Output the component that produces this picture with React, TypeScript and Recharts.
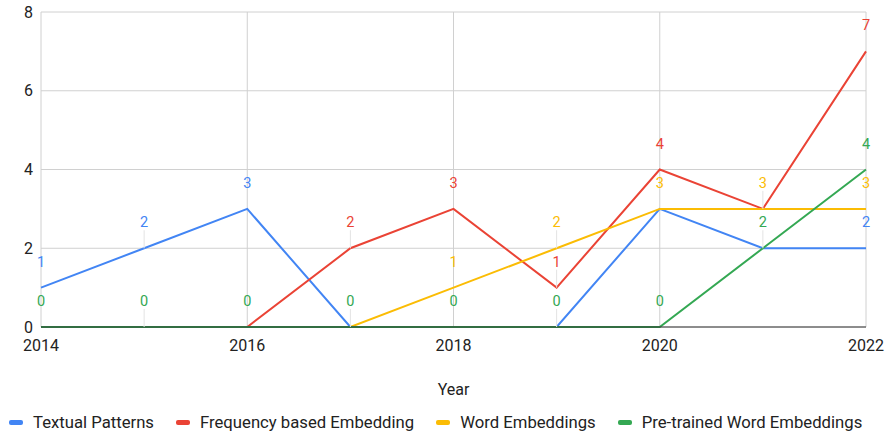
import React from 'react';
import {
  LineChart,
  Line,
  XAxis,
  YAxis,
  CartesianGrid,
  Legend,
  LabelList,
} from 'recharts';

const YEARS = [2014, 2015, 2016, 2017, 2018, 2019, 2020, 2021, 2022];
const TEXTUAL_PATTERNS = [1, 2, 3, 0, 0, 0, 3, 2, 2];
const FREQUENCY_EMBEDDING = [0, 0, 0, 2, 3, 1, 4, 3, 7];
const WORD_EMBEDDINGS = [0, 0, 0, 0, 1, 2, 3, 3, 3];
const PRETRAINED_EMBEDDINGS = [0, 0, 0, 0, 0, 0, 0, 2, 4];
const X_TICKS = [2014, 2016, 2018, 2020, 2022];
const Y_TICKS = [0, 2, 4, 6, 8];

const SERIES = [
  { key: 'textual', name: 'Textual Patterns', color: '#4285F4', values: TEXTUAL_PATTERNS },
  { key: 'frequency', name: 'Frequency based Embedding', color: '#EA4335', values: FREQUENCY_EMBEDDING },
  { key: 'word', name: 'Word Embeddings', color: '#FBBC04', values: WORD_EMBEDDINGS },
  { key: 'pretrained', name: 'Pre-trained Word Embeddings', color: '#34A853', values: PRETRAINED_EMBEDDINGS },
];

const data = YEARS.map((year, i) => {
  const row: any = { year };
  SERIES.forEach((s) => (row[s.key] = s.values[i]));
  return row;
});

const FONT = 'Roboto, Arial, sans-serif';

// a label is hidden when a later series sits on the same value (drawn on top)
const isHidden = (seriesIdx: number, i: number) =>
  SERIES.slice(seriesIdx + 1).some((s) => s.values[i] === SERIES[seriesIdx].values[i]);

const makeLabel = (seriesIdx: number) => (props: any) => {
  const { x, y, value, index } = props;
  if (isHidden(seriesIdx, index)) return null;
  const ty = y - 26;
  return (
    <g>
      {index % 2 === 1 && (
        <line x1={x} x2={x} y1={ty + 8} y2={y} stroke="#e3e3e3" strokeWidth={1} />
      )}
      <text
        x={x}
        y={ty}
        dy="0.35em"
        textAnchor="middle"
        fill={SERIES[seriesIdx].color}
        fontSize={14.5}
        fontFamily={FONT}
      >
        {value}
      </text>
    </g>
  );
};

const LegendContent = () => (
  <div style={{ display: 'flex', alignItems: 'center', fontFamily: FONT, fontSize: 16.7, color: '#222' }}>
    {SERIES.map((s) => (
      <div key={s.key} style={{ display: 'flex', alignItems: 'center', marginRight: 22 }}>
        <span
          style={{
            display: 'inline-block',
            width: 14,
            height: 5,
            borderRadius: 2,
            background: s.color,
            marginRight: 10,
          }}
        />
        <span style={{ whiteSpace: 'nowrap' }}>{s.name}</span>
      </div>
    ))}
  </div>
);

export default function App() {
  return (
    <div style={{ position: 'absolute', left: 0, top: 0, width: 886, height: 436, background: '#fff' }}>
      <LineChart width={886} height={436} data={data} margin={{ top: 12, right: 20, left: 0, bottom: 34 }}>
        <CartesianGrid stroke="#d0d0d0" />
        <XAxis
          dataKey="year"
          type="number"
          domain={[2014, 2022]}
          ticks={X_TICKS}
          tickLine={false}
          tickMargin={7}
          height={75}
          axisLine={{ stroke: '#333', strokeWidth: 1 }}
          tick={{ fontSize: 16, fill: '#222', fontFamily: FONT }}
          label={{ value: 'Year', position: 'insideBottom', offset: 7, fontSize: 16, fill: '#222', fontFamily: FONT }}
        />
        <YAxis
          domain={[0, 8]}
          ticks={Y_TICKS}
          width={41}
          axisLine={false}
          tickLine={false}
          tick={{ fontSize: 16, fill: '#222', fontFamily: FONT }}
        />
        {SERIES.map((s, idx) => (
          <Line
            key={s.key}
            type="linear"
            dataKey={s.key}
            name={s.name}
            stroke={s.color}
            strokeWidth={2}
            dot={false}
            activeDot={false}
            isAnimationActive={false}
          >
            <LabelList dataKey={s.key} content={makeLabel(idx)} />
          </Line>
        ))}
        <Legend
          layout="horizontal"
          verticalAlign="middle"
          align="center"
          content={<LegendContent />}
          wrapperStyle={{ top: 413, left: 9, width: 'auto' }}
        />
      </LineChart>
    </div>
  );
}
